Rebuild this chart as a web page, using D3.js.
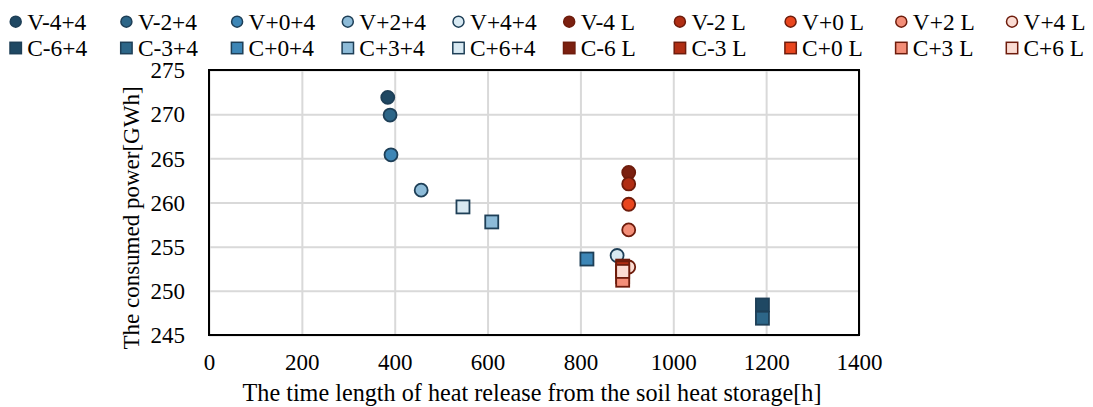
<!DOCTYPE html>
<html>
<head>
<meta charset="utf-8">
<script src="https://cdn.jsdelivr.net/npm/d3@7/dist/d3.min.js"></script>
<style>
  html, body { margin: 0; padding: 0; background: #fff; }
  svg text { font-family: "Liberation Serif", "Times New Roman", serif; fill: #000; }
</style>
</head>
<body>
<svg id="chart" width="1093" height="407"></svg>
<script>
// ---- data ----
const seriesNames = ["V-4+4","V-2+4","V+0+4","V+2+4","V+4+4","V-4 L","V-2 L","V+0 L","V+2 L","V+4 L",
                     "C-6+4","C-3+4","C+0+4","C+3+4","C+6+4","C-6 L","C-3 L","C+0 L","C+3 L","C+6 L"];
const seriesShapes = ["circle","circle","circle","circle","circle","circle","circle","circle","circle","circle",
                      "square","square","square","square","square","square","square","square","square","square"];
const heatReleaseHours = [385, 390, 392, 457, 879, 904, 904, 904, 904, 904,
                          1192, 1192, 814, 609, 547, 891, 891, 891, 891, 891];
const consumedPowerGWh = [271.9, 269.9, 265.4, 261.4, 254.0, 263.4, 262.1, 259.8, 256.9, 252.7,
                          248.4, 246.9, 253.6, 257.8, 259.5, 252.8, 252.6, 251.6, 251.2, 252.2];
const xTicks = [0, 200, 400, 600, 800, 1000, 1200, 1400];
const yTicks = [245, 250, 255, 260, 265, 270, 275];

// ---- style ----
const fillColors = ["#1f4863","#2d6688","#3d86b6","#8dbbd8","#d8e9f2","#7b2010","#b02e14","#e9461e","#f38e78","#fbdcd3",
                    "#1f4863","#2d6688","#3d86b6","#8dbbd8","#d8e9f2","#7b2010","#b02e14","#e9461e","#f38e78","#fbdcd3"];
const strokeColors = seriesNames.map(n => n.endsWith("L") ? "#6e1c0c" : "#1e3f57");

const svg = d3.select("#chart");
const margin = {left: 209, right: 1093 - 859, top: 70, bottom: 407 - 335};
const W = 1093 - margin.left - margin.right;
const H = 407 - margin.top - margin.bottom;
const FONT = 23;

const x = d3.scaleLinear().domain([0, 1400]).range([0, W]);
const y = d3.scaleLinear().domain([245, 275]).range([H, 0]);

const g = svg.append("g").attr("transform", `translate(${margin.left},${margin.top})`);

// gridlines
const gx = g.append("g").attr("transform", `translate(0,${H})`)
  .call(d3.axisBottom(x).tickValues(xTicks).tickSize(-H).tickFormat(""));
gx.select(".domain").remove();
gx.selectAll("line").attr("stroke", "#d9d9d9").attr("stroke-width", 2);
const gy = g.append("g")
  .call(d3.axisLeft(y).tickValues(yTicks).tickSize(-W).tickFormat(""));
gy.select(".domain").remove();
gy.selectAll("line").attr("stroke", "#d9d9d9").attr("stroke-width", 2);

// tick labels
const lx = g.append("g").attr("transform", `translate(0,${H + 16})`)
  .call(d3.axisBottom(x).tickValues(xTicks).tickSize(0).tickFormat(d3.format("d")));
lx.select(".domain").remove();
lx.selectAll("text").attr("font-size", FONT).attr("font-family", "Liberation Serif, serif").attr("fill", "#000");
const ly = g.append("g").attr("transform", `translate(-21,0)`)
  .call(d3.axisLeft(y).tickValues(yTicks).tickSize(0).tickFormat(d3.format("d")));
ly.select(".domain").remove();
ly.selectAll("text").attr("font-size", FONT).attr("font-family", "Liberation Serif, serif").attr("fill", "#000").attr("dy", "0.34em");

// frame
g.append("rect").attr("x", 0).attr("y", 0).attr("width", W).attr("height", H)
  .attr("fill", "none").attr("stroke", "#000").attr("stroke-width", 2);

// markers
const R = 6.5, S = 13;
const pts = seriesNames.map((n, i) => ({n, i, shape: seriesShapes[i], xv: heatReleaseHours[i], yv: consumedPowerGWh[i]}));
pts.forEach(p => {
  const i = p.i;
  const cx = x(p.xv), cy = y(p.yv);
  if (p.shape === "circle") {
    g.append("circle").attr("cx", cx).attr("cy", cy).attr("r", R)
      .attr("fill", fillColors[i]).attr("stroke", strokeColors[i]).attr("stroke-width", 1.8);
  } else {
    g.append("rect").attr("x", cx - S/2).attr("y", cy - S/2).attr("width", S).attr("height", S)
      .attr("fill", fillColors[i]).attr("stroke", strokeColors[i]).attr("stroke-width", 1.8);
  }
});

// axis titles
svg.append("text").attr("x", 532).attr("y", 401)
  .attr("text-anchor", "middle").attr("font-size", 24.2)
  .text("The time length of heat release from the soil heat storage[h]");
svg.append("text").attr("transform", `translate(139,218) rotate(-90)`)
  .attr("text-anchor", "middle").attr("font-size", FONT)
  .text("The consumed power[GWh]");

// legend
const legend = svg.append("g");
const colStep = 110.7, row1 = 21.7, row2 = 48;
const legendItems = [];
for (let c = 0; c < 10; c++) {
  legendItems.push({idx: c, col: c, row: 0});
  legendItems.push({idx: c + 10, col: c, row: 1});
}
legendItems.forEach(it => {
  const mx = 15.7 + it.col * colStep;
  const my = it.row === 0 ? row1 : row2;
  const i = it.idx;
  if (seriesShapes[i] === "circle") {
    legend.append("circle").attr("cx", mx).attr("cy", my).attr("r", 5.5)
      .attr("fill", fillColors[i]).attr("stroke", strokeColors[i]).attr("stroke-width", 1.5);
  } else {
    legend.append("rect").attr("x", mx - 5.7).attr("y", my - 5.7).attr("width", 11.4).attr("height", 11.4)
      .attr("fill", fillColors[i]).attr("stroke", strokeColors[i]).attr("stroke-width", 1.5);
  }
  legend.append("text").attr("x", mx + 11.5).attr("y", my).attr("dy", "0.34em")
    .attr("font-size", 23.4).text(seriesNames[i]);
});
</script>
</body>
</html>
